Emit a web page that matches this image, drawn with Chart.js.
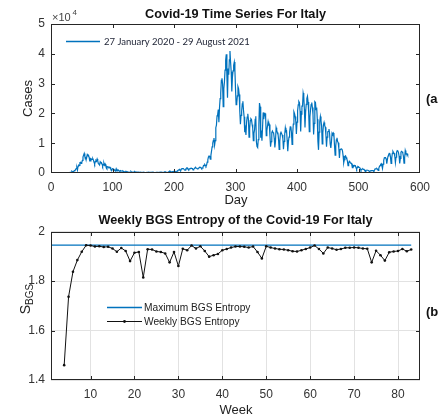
<!DOCTYPE html>
<html><head><meta charset="utf-8">
<script src="https://cdn.jsdelivr.net/npm/chart.js@4.4.0/dist/chart.umd.min.js"></script>
<style>
html,body{margin:0;padding:0;background:#fff;width:438px;height:419px;overflow:hidden}
canvas{position:absolute;left:0;display:block}
#c1{top:0}
#c2{top:210px}
</style></head><body>
<canvas id="c1" width="438" height="210"></canvas>
<canvas id="c2" width="438" height="209"></canvas>
<script>
// ---------- DATA ----------
// Daily new Covid-19 cases in Italy (thousands), 27 Jan 2020 (day 0) .. 29 Aug 2021 (day 580), one row per week (Mon..Sun)
const dailyCasesThousands = [
0,0,0,0,0,0,0,
0,0,0,0,0,0,0,
0,0,0,0,0,0,0,
0,0,0,0,0.02,0.06,0.07,
0.08,0.09,0.08,0.25,0.24,0.24,0.57,
0.34,0.47,0.59,0.77,0.78,1.25,1.49,
1.80,0.98,2.31,2.65,2.55,3.50,3.59,
3.23,3.53,4.21,5.32,5.99,6.56,5.56,
4.79,5.25,5.21,6.20,5.91,5.97,5.22,
4.05,4.05,4.78,4.67,4.59,4.81,4.32,
3.60,3.04,3.84,4.20,3.95,4.69,4.09,
3.15,2.97,2.67,3.79,3.49,3.49,3.05,
2.26,2.73,3.37,2.65,3.02,2.36,2.32,
1.74,2.09,2.09,1.87,1.97,1.90,1.39,
1.22,1.08,1.44,1.40,1.33,1.08,0.80,
0.74,1.40,0.89,0.99,0.79,0.88,0.68,
0.45,0.81,0.67,0.64,0.65,0.67,0.53,
0.30,0.40,0.58,0.59,0.52,0.42,0.36,
0.18,0.32,0.32,0.18,0.52,0.27,0.20,
0.28,0.28,0.20,0.38,0.16,0.35,0.34,
0.30,0.21,0.33,0.33,0.25,0.26,0.22,
0.22,0.12,0.19,0.30,0.26,0.18,0.17,
0.13,0.14,0.19,0.20,0.22,0.24,0.19,
0.21,0.19,0.19,0.23,0.28,0.19,0.23,
0.17,0.11,0.16,0.23,0.23,0.25,0.22,
0.13,0.19,0.28,0.31,0.25,0.27,0.26,
0.17,0.21,0.29,0.39,0.38,0.30,0.24,
0.16,0.19,0.38,0.40,0.55,0.35,0.46,
0.26,0.41,0.48,0.52,0.57,0.63,0.48,
0.32,0.40,0.64,0.84,0.95,1.07,1.21,
0.95,0.88,1.37,1.41,1.46,1.44,1.37,
1.00,0.98,1.33,1.40,1.73,1.69,1.30,
1.11,1.37,1.43,1.60,1.62,1.50,1.46,
1.01,1.23,1.45,1.45,1.91,1.64,1.59,
1.35,1.39,1.64,1.79,1.91,1.87,1.77,
1.49,1.65,1.85,2.55,2.50,2.84,2.58,
2.26,2.68,3.68,4.46,5.37,5.72,5.46,
4.62,5.90,7.33,8.80,10.01,10.93,11.71,
9.34,10.87,15.20,16.08,19.14,19.64,21.27,
17.01,21.99,24.99,26.83,31.08,31.76,29.91,
22.25,28.24,30.55,34.51,37.81,39.81,32.62,
25.27,35.10,32.96,37.98,40.90,37.26,33.98,
27.35,32.19,34.28,36.18,37.24,34.77,28.34,
22.93,23.23,25.85,29.00,28.35,26.32,20.65,
16.38,19.35,20.71,23.23,24.10,21.05,18.89,
13.72,14.84,12.76,16.99,18.73,19.90,17.94,
12.03,14.84,17.57,18.24,17.99,16.31,15.10,
10.87,13.32,14.52,18.04,19.04,10.41,8.91,
8.58,11.21,16.20,23.48,22.21,11.83,14.25,
10.80,15.38,20.33,18.02,19.98,19.98,18.63,
12.55,14.24,15.77,17.24,16.15,16.31,12.55,
8.82,10.50,13.57,14.08,13.63,13.33,11.63,
8.56,10.59,15.20,14.37,13.57,13.33,11.25,
7.93,10.63,13.19,13.66,13.66,12.71,11.64,
7.97,10.63,12.95,15.15,13.91,14.14,11.07,
7.35,10.39,12.07,13.76,15.48,15.58,13.50,
9.63,13.31,16.42,20.50,19.89,18.92,17.45,
13.11,17.08,20.88,22.86,24.04,23.64,20.77,
13.90,19.75,22.41,22.41,26.82,25.67,21.32,
15.27,20.40,23.06,24.94,25.73,23.83,20.16,
13.85,18.77,21.27,22.97,23.63,21.99,19.61,
12.92,16.67,23.90,23.65,21.26,21.93,18.03,
10.68,7.77,13.71,17.22,18.94,17.57,15.75,
9.79,13.45,16.17,16.97,15.94,15.37,12.69,
8.86,12.07,13.84,13.99,14.76,13.16,9.79,
8.44,10.38,13.35,12.97,13.45,12.96,9.15,
5.95,9.12,11.16,11.81,10.56,10.18,8.29,
5.08,7.85,7.85,8.09,8.08,7.37,5.75,
3.46,4.45,5.51,5.74,5.22,4.72,3.99,
2.49,3.22,3.94,3.66,3.35,3.34,2.95,
1.82,2.48,2.21,2.56,2.41,2.44,1.73,
1.27,1.90,2.20,2.08,1.90,1.72,1.39,
0.90,1.26,1.26,1.40,1.20,1.20,0.88,
0.50,0.84,0.93,0.95,0.93,0.79,0.73,
0.39,0.68,0.77,0.79,0.81,0.81,0.81,
0.48,0.91,1.39,1.39,1.39,1.46,1.20,
0.89,1.55,2.15,2.45,2.89,3.12,2.56,
1.55,2.99,4.26,5.06,5.14,5.14,4.74,
3.12,4.52,5.70,6.17,6.59,6.48,5.32,
3.19,4.85,6.60,7.23,6.84,6.61,5.64,
3.51,5.28,6.97,7.54,7.41,6.85,5.71,
3.19,4.93,6.99,7.26,7.11,6.71,5.66,
3.29,5.06,7.55,6.76,6.30,6.44,5.96
];
const dayTicks = [0, 100, 200, 300, 400, 500, 600];
const caseTicksThousands = [0, 10, 20, 30, 40, 50];
const caseTickLabels = ['0', '1', '2', '3', '4', '5'];

// Weekly BGS entropy, weeks 4..83
const entropyWeeks = [4,5,6,7,8,9,10,11,12,13,14,15,16,17,18,19,20,21,22,23,24,25,26,27,28,29,30,31,32,33,34,35,36,37,38,39,40,41,42,43,44,45,46,47,48,49,50,51,52,53,54,55,56,57,58,59,60,61,62,63,64,65,66,67,68,69,70,71,72,73,74,75,76,77,78,79,80,81,82,83];
const weeklyEntropy = [
1.46,1.737,1.838,1.885,1.919,1.945,1.944,1.94,1.941,1.938,
1.939,1.932,1.919,1.934,1.922,1.881,1.915,1.918,1.815,1.929,
1.928,1.92,1.918,1.912,1.876,1.918,1.861,1.931,1.925,1.944,
1.932,1.941,1.922,1.899,1.905,1.91,1.925,1.93,1.936,1.94,
1.94,1.939,1.936,1.94,1.918,1.892,1.941,1.936,1.932,1.929,
1.928,1.925,1.921,1.92,1.925,1.93,1.936,1.944,1.93,1.912,
1.936,1.932,1.927,1.93,1.935,1.935,1.936,1.935,1.932,1.931,
1.876,1.923,1.905,1.883,1.917,1.92,1.922,1.93,1.921,1.928
];
const maxEntropyWeeks = [1, 83];
const maxEntropyValue = 1.9459;
const weekTicks = [10, 20, 30, 40, 50, 60, 70, 80];
const entropyTicks = [1.4, 1.6, 1.8, 2];
const entropyTickLabels = ['1.4', '1.6', '1.8', '2'];

// ---------- STYLE ----------
const FONT = '"Liberation Sans", Arial, Helvetica, sans-serif';
const BLUE = '#0072BD';
const AXIS = '#262626';
const TICKTXT = '#333333';

function txt(ctx, s, x, y, font, color, align, base) {
  ctx.save();
  ctx.font = font; ctx.fillStyle = color;
  ctx.textAlign = align || 'center'; ctx.textBaseline = base || 'middle';
  ctx.fillText(s, x, y);
  ctx.restore();
}
function hline(ctx, x0, x1, y, color, w) {
  ctx.save();
  ctx.strokeStyle = color; ctx.lineWidth = w; ctx.setLineDash([]);
  ctx.beginPath(); ctx.moveTo(x0, y); ctx.lineTo(x1, y); ctx.stroke();
  ctx.restore();
}
function frame(chart, xVals, yVals) {
  const {ctx, chartArea: a, scales: {x, y}} = chart;
  ctx.save();
  ctx.strokeStyle = AXIS; ctx.lineWidth = 1;
  const L = Math.round(a.left) + 0.5, R = Math.round(a.right) - 0.5;
  const T = Math.round(a.top) + 0.5, B = Math.round(a.bottom) - 0.5;
  ctx.strokeRect(L, T, R - L, B - T);
  const tl = 3.5;
  ctx.beginPath();
  xVals.forEach(v => {
    const px = Math.round(x.getPixelForValue(v)) + 0.5;
    if (px <= L + 1 || px >= R - 1) return;
    ctx.moveTo(px, B); ctx.lineTo(px, B - tl);
    ctx.moveTo(px, T); ctx.lineTo(px, T + tl);
  });
  yVals.forEach(v => {
    const py = Math.round(y.getPixelForValue(v)) + 0.5;
    if (py <= T + 1 || py >= B - 1) return;
    ctx.moveTo(L, py); ctx.lineTo(L + tl, py);
    ctx.moveTo(R, py); ctx.lineTo(R - tl, py);
  });
  ctx.stroke();
  ctx.restore();
}

// ---------- CHART (a) ----------
const overlayA = {
  id: 'overlayA',
  afterDraw(chart) {
    const ctx = chart.ctx;
    frame(chart, dayTicks, caseTicksThousands);
    txt(ctx, 'Covid-19 Time Series For Italy', 235.5, 14, 'bold 12.7px ' + FONT, '#111');
    // exponent label
    txt(ctx, '\u00d710', 52, 17.5, '11px ' + FONT, '#444', 'left');
    txt(ctx, '4', 72.5, 12.5, '8px ' + FONT, '#444', 'left');
    // axis titles
    ctx.save(); ctx.translate(28.7, 98.5); ctx.rotate(-Math.PI / 2);
    txt(ctx, 'Cases', 0, 0, '13px ' + FONT, '#222');
    ctx.restore();
    txt(ctx, 'Day', 236, 200, '13px ' + FONT, '#222');
    // legend
    hline(ctx, 66, 100, 41.5, BLUE, 1.5);
    const lab = '27 January 2020 - 29 August 2021';
    ctx.save();
    ctx.font = '10px Lato, "Open Sans", sans-serif';
    const w10 = ctx.measureText(lab).width;
    ctx.restore();
    const fs = 10 * 146 / w10;
    txt(ctx, lab, 104, 41.5, fs.toFixed(2) + 'px Lato, "Open Sans", sans-serif', '#1c2133', 'left');
    txt(ctx, '(a', 426, 99, 'bold 13px ' + FONT, '#111', 'left');
  }
};

new Chart(document.getElementById('c1'), {
  type: 'line',
  data: {
    datasets: [{
      data: dailyCasesThousands.map((v, i) => ({x: i, y: v})),
      borderColor: BLUE, borderWidth: 1.2, pointRadius: 0, tension: 0, fill: false
    }]
  },
  options: {
    responsive: false, animation: false, events: [],
    layout: {padding: {left: 0, right: 18, top: 24, bottom: 0}},
    plugins: {legend: {display: false}, tooltip: {enabled: false}, title: {display: false}},
    scales: {
      x: {
        type: 'linear', min: 0, max: 600,
        afterFit(s) { s.height = 37; },
        afterBuildTicks(s) { s.ticks = dayTicks.map(v => ({value: v})); },
        grid: {display: false, drawTicks: false}, border: {display: false},
        ticks: {padding: 7, color: TICKTXT, font: {family: FONT, size: 12}, maxRotation: 0, autoSkip: false,
                callback: v => String(v)}
      },
      y: {
        type: 'linear', min: 0, max: 50,
        afterFit(s) { s.width = 51; },
        afterBuildTicks(s) { s.ticks = caseTicksThousands.map(v => ({value: v})); },
        grid: {display: false, drawTicks: false}, border: {display: false},
        ticks: {padding: 6, color: TICKTXT, font: {family: FONT, size: 12}, autoSkip: false,
                callback: v => caseTickLabels[caseTicksThousands.indexOf(v)]}
      }
    }
  },
  plugins: [overlayA]
});

// ---------- CHART (b) ----------
const overlayB = {
  id: 'overlayB',
  afterDraw(chart) {
    const ctx = chart.ctx;
    frame(chart, weekTicks, entropyTicks);
    txt(ctx, 'Weekly BGS Entropy of the Covid-19 For Italy', 235.5, 10.7, 'bold 12.7px ' + FONT, '#111');
    // y title S_BGS
    ctx.save(); ctx.translate(30, 89); ctx.rotate(-Math.PI / 2);
    ctx.fillStyle = '#222'; ctx.textBaseline = 'alphabetic'; ctx.textAlign = 'left';
    ctx.font = '14px ' + FONT; const wS = ctx.measureText('S').width;
    ctx.font = '10px ' + FONT; const wB = ctx.measureText('BGS').width;
    const x0 = -(wS + wB) / 2;
    ctx.font = '14px ' + FONT; ctx.fillText('S', x0, 0);
    ctx.font = '10px ' + FONT; ctx.fillText('BGS', x0 + wS, 3);
    ctx.restore();
    txt(ctx, 'Week', 236, 200, '13px ' + FONT, '#222');
    // legend
    hline(ctx, 107, 142, 97.5, BLUE, 1.5);
    hline(ctx, 107, 142, 111.5, '#111', 1);
    ctx.save();
    ctx.fillStyle = '#111';
    ctx.beginPath(); ctx.arc(124.5, 111.5, 1.4, 0, Math.PI * 2); ctx.fill();
    ctx.restore();
    txt(ctx, 'Maximum BGS Entropy', 144, 97.8, '10.2px ' + FONT, '#222', 'left');
    txt(ctx, 'Weekly BGS Entropy', 144, 111.8, '10.2px ' + FONT, '#222', 'left');
    txt(ctx, '(b', 426, 102.5, 'bold 13px ' + FONT, '#111', 'left');
  }
};

new Chart(document.getElementById('c2'), {
  type: 'line',
  data: {
    datasets: [
      {
        label: 'Weekly BGS Entropy',
        data: weeklyEntropy.map((v, i) => ({x: entropyWeeks[i], y: v})),
        borderColor: '#111', borderWidth: 1, pointRadius: 1.3, pointBackgroundColor: '#111',
        pointBorderWidth: 0, tension: 0, fill: false
      },
      {
        label: 'Maximum BGS Entropy',
        data: maxEntropyWeeks.map(w => ({x: w, y: maxEntropyValue})),
        borderColor: BLUE, borderWidth: 1.2, pointRadius: 0, tension: 0, fill: false
      }
    ]
  },
  options: {
    responsive: false, animation: false, events: [],
    layout: {padding: {left: 0, right: 18, top: 21.7, bottom: 0}},
    plugins: {legend: {display: false}, tooltip: {enabled: false}, title: {display: false}},
    scales: {
      x: {
        type: 'linear', min: 1, max: 85,
        afterFit(s) { s.height = 39; },
        afterBuildTicks(s) { s.ticks = weekTicks.map(v => ({value: v})); },
        grid: {display: true, drawTicks: false, color: '#e2e2e2', lineWidth: 1}, border: {display: false},
        ticks: {padding: 7, color: TICKTXT, font: {family: FONT, size: 12}, maxRotation: 0, autoSkip: false,
                callback: v => String(v)}
      },
      y: {
        type: 'linear', min: 1.4, max: 2,
        afterFit(s) { s.width = 51; },
        afterBuildTicks(s) { s.ticks = entropyTicks.map(v => ({value: v})); },
        grid: {display: true, drawTicks: false, color: '#e2e2e2', lineWidth: 1}, border: {display: false},
        ticks: {padding: 6, color: TICKTXT, font: {family: FONT, size: 12}, autoSkip: false,
                callback: v => entropyTickLabels[entropyTicks.indexOf(Math.round(v * 10) / 10)]}
      }
    }
  },
  plugins: [overlayB]
});
</script>
</body></html>
